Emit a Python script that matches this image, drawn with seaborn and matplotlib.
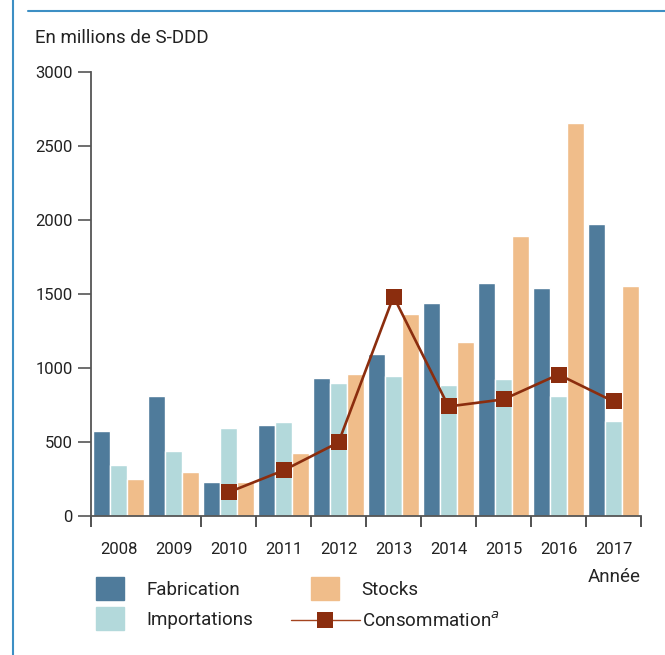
import pandas as pd
import numpy as np
import matplotlib.pyplot as plt
import seaborn as sns
from matplotlib.lines import Line2D
from matplotlib.patches import Patch, Rectangle
from matplotlib.legend_handler import HandlerPatch

# Data (millions de S-DDD)
years = ["2008", "2009", "2010", "2011", "2012", "2013", "2014", "2015", "2016", "2017"]
fabrication = [575, 810, 230, 615, 932, 1094, 1438, 1573, 1539, 1972]
importations = [345, 439, 594, 635, 898, 945, 884, 925, 810, 641]
stocks = [250, 297, 230, 425, 959, 1364, 1175, 1890, 2653, 1553]
consommation = [None, None, 160, 308, 497, 1483, 740, 788, 956, 774]

series_names = ["Fabrication", "Importations", "Stocks"]
colors = ["#4f7b9b", "#b3d9db", "#f0bd8a"]
line_color = "#8b2d0e"

sns.set_style("ticks")
plt.rcParams["font.family"] = ["Roboto", "DejaVu Sans"]
plt.rcParams["text.color"] = "#222222"

# long-form table for seaborn
bars = pd.DataFrame({
    "Année": years * 3,
    "Valeur": fabrication + importations + stocks,
    "Série": [s for s in series_names for _ in years],
})
cons = pd.DataFrame({"Année": years, "Valeur": consommation}).dropna()

fig = plt.figure(figsize=(6.65, 6.55), dpi=100)
ax = fig.add_axes([91 / 665, 1 - 516 / 655, 550 / 665, 444 / 655])

sns.barplot(data=bars, x="Année", y="Valeur", hue="Série", order=years,
            hue_order=series_names, palette=colors, width=0.91, gap=0,
            saturation=1, legend=False, ax=ax)
sns.pointplot(data=cons, x="Année", y="Valeur", order=years, color=line_color,
              markers="s", markersize=12, linewidth=1.9, errorbar=None,
              markeredgewidth=0, ax=ax)

ax.set_ylim(0, 3000)
ax.set_xlim(-0.5, 9.5)
ax.set_yticks(np.arange(0, 3001, 500))
ax.set_ylabel("")
ax.set_xlabel("Année", loc="right", fontsize=13.5, labelpad=8)

# group boundaries as minor ticks (none between 2008 and 2009 in the original)
ax.set_xticks([-0.5, 1.5, 2.5, 3.5, 4.5, 5.5, 6.5, 7.5, 8.5, 9.5], minor=True)
ax.tick_params(axis="x", which="major", length=0, pad=19, labelsize=12,
               labelcolor="#222222")
ax.tick_params(axis="x", which="minor", bottom=True, length=8, width=1.2,
               color="#333333")
ax.tick_params(axis="y", left=True, length=9.5, width=1.2, color="#555555",
               pad=3.5, labelsize=12, labelcolor="#222222")

for side in ["top", "right"]:
    ax.spines[side].set_visible(False)
for side in ["left", "bottom"]:
    ax.spines[side].set_color("#555555")
    ax.spines[side].set_linewidth(1.3)

fig.text(35 / 665, 1 - 38 / 655, "En millions de S-DDD", fontsize=13.5,
         ha="left", va="center")

# frame lines of the publication box
fig.add_artist(Line2D([13 / 665, 13 / 665], [0, 1], color="#3d8fc4", lw=1.5))
fig.add_artist(Line2D([28 / 665, 1], [1 - 11 / 655, 1 - 11 / 655],
                      color="#3d8fc4", lw=1.5))


def small_box(legend, orig_handle, xdescent, ydescent, width, height, fontsize):
    w, h = 20, 16.5
    return Rectangle((width / 2 - w / 2 - xdescent, height / 2 - h / 2 - ydescent), w, h)


handles = [
    Patch(color=colors[0], label="Fabrication"),
    Patch(color=colors[1], label="Importations"),
    Patch(color=colors[2], label="Stocks"),
    Line2D([], [], color="#a4441f", lw=1, marker="s", markersize=12,
           markerfacecolor=line_color, markeredgewidth=0,
           label="Consommation$^{a}$"),
]
fig.legend(handles=handles, loc="upper left", ncol=2, frameon=False,
           bbox_to_anchor=(75 / 665, 1 - 581 / 655), fontsize=13.5,
           handlelength=3.7, handletextpad=0.1, columnspacing=2.0,
           labelspacing=0.65, borderpad=0, borderaxespad=0,
           handler_map={Patch: HandlerPatch(patch_func=small_box)})

plt.savefig("out.png", dpi=100)
plt.close()
